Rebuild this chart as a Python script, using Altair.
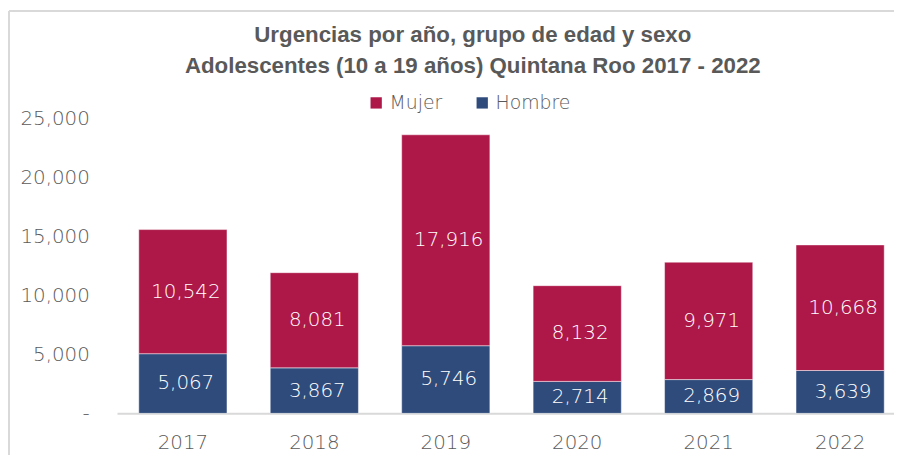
import altair as alt
import pandas as pd

years = ["2017", "2018", "2019", "2020", "2021", "2022"]
hombre = [5067, 3867, 5746, 2714, 2869, 3639]
mujer = [10542, 8081, 17916, 8132, 9971, 10668]
series = ["Mujer", "Hombre"]
colors = ["#AE1849", "#2F4B7C"]
title_lines = ["Urgencias por año, grupo de edad y sexo",
               "Adolescentes (10 a 19 años) Quintana Roo 2017 - 2022"]

rows = []
for y, h, m in zip(years, hombre, mujer):
    rows.append({"year": y, "sexo": "Hombre", "value": h, "ord": 0})
    rows.append({"year": y, "sexo": "Mujer", "value": m, "ord": 1})
df = pd.DataFrame(rows)
one = pd.DataFrame({"k": [0]})

LABEL_FONT = "DejaVu Sans"
LW = 200
TITLE_FONT = "Liberation Sans Narrow, Liberation Sans"
GRAY = "#595959"

base = alt.Chart(df).transform_stack(
    stack="value", groupby=["year"], as_=["v0", "v1"],
    sort=[alt.SortField("ord", order="ascending")]
).transform_calculate(mid="(datum.v0 + datum.v1) / 2")

xenc = alt.X("year:N", title=None,
             scale=alt.Scale(paddingInner=0.329, paddingOuter=0.12, align=0.69),
             axis=alt.Axis(labelAngle=0, labelFontSize=20, labelFont=LABEL_FONT,
                           labelFontWeight=LW, labelColor=GRAY, labelPadding=19,
                           ticks=False, domainColor="#D9D9D9", domainWidth=2))

bars = base.mark_bar(stroke="white", strokeWidth=0.8, strokeOpacity=0.6).encode(
    x=xenc,
    y=alt.Y("v0:Q", title=None,
            scale=alt.Scale(domain=[0, 25000], nice=False),
            axis=alt.Axis(values=[0, 5000, 10000, 15000, 20000, 25000],
                          labelExpr="datum.value == 0 ? '-' : format(datum.value, ',')",
                          labelFontSize=20, labelFont=LABEL_FONT, labelFontWeight=LW,
                          labelColor=GRAY, labelPadding=28, ticks=False,
                          domain=False, grid=False)),
    y2="v1:Q",
    color=alt.Color("sexo:N", title=None,
                    scale=alt.Scale(domain=series, range=colors),
                    legend=alt.Legend(orient="none", legendX=252, legendY=-26,
                                      direction="horizontal", symbolType="square",
                                      symbolSize=130, symbolStrokeWidth=0,
                                      labelFontSize=19, labelFont=LABEL_FONT,
                                      labelFontWeight=LW, labelColor=GRAY,
                                      columnPadding=30, labelOffset=4)),
)

labels = base.mark_text(color="white", fontSize=20, font=LABEL_FONT,
                        fontWeight=LW, dx=3).encode(
    x="year:N",
    y="mid:Q",
    text=alt.Text("value:Q", format=","),
)

title1 = alt.Chart(one).mark_text(fontSize=22.5, fontWeight="bold", font=TITLE_FONT,
                                  color=GRAY, baseline="middle", align="center").encode(
    x=alt.value(359), y=alt.value(-85), text=alt.value(title_lines[0]))
title2 = alt.Chart(one).mark_text(fontSize=22.5, fontWeight="bold", font=TITLE_FONT,
                                  color=GRAY, baseline="middle", align="center").encode(
    x=alt.value(359), y=alt.value(-53), text=alt.value(title_lines[1]))

frame_left = alt.Chart(one).mark_rule(color="#D9D9D9", strokeWidth=2).encode(
    x=alt.value(-109), y=alt.value(-109), y2=alt.value(340))
frame_top = alt.Chart(one).mark_rule(color="#D9D9D9", strokeWidth=2).encode(
    x=alt.value(-109), x2=alt.value(800), y=alt.value(-109))

chart = alt.layer(frame_left, frame_top, title1, title2, bars, labels).properties(
    width=784, height=297,
    autosize=alt.AutoSizeParams(type="none"),
    padding={"left": 110, "top": 110, "right": 0, "bottom": 40},
).configure(background="white").configure_view(stroke=None, strokeWidth=0)

chart.save("out.html", embed_options={"renderer": "svg", "actions": False})
